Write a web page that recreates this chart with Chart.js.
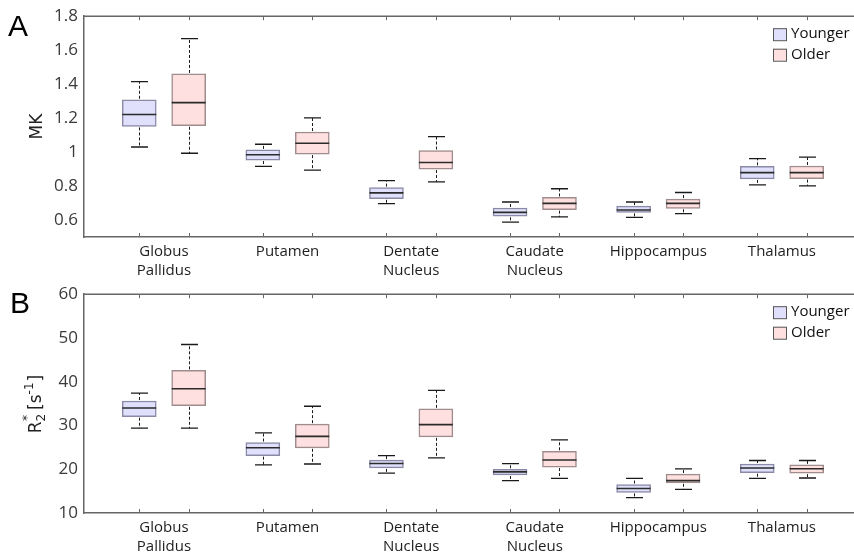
<!DOCTYPE html>
<html>
<head>
<meta charset="utf-8">
<script src="https://cdn.jsdelivr.net/npm/chart.js@4/dist/chart.umd.min.js"></script>
<style>
  html, body { margin: 0; padding: 0; background: #fff; }
  #wrap { position: relative; width: 854px; height: 556px; overflow: hidden; }
  .panel { position: absolute; left: 0; width: 854px; height: 278px; }
  .tag { position: absolute; font-family: "Liberation Sans", Arial, sans-serif; font-size: 30px; color: #000; line-height: 1; }
</style>
</head>
<body>
<div id="wrap">
  <div class="panel" style="top:0"><canvas id="mk" width="854" height="278"></canvas></div>
  <div class="panel" style="top:278px"><canvas id="r2" width="854" height="278"></canvas></div>
  <div class="tag" style="left:8px;top:11px">A</div>
  <div class="tag" style="left:10px;top:288px">B</div>
</div>
<script>
// Brain regions along the x axis
const regions = [["Globus", "Pallidus"], "Putamen", ["Dentate", "Nucleus"], ["Caudate", "Nucleus"], "Hippocampus", "Thalamus"];
const groupPos = [1, 2, 3, 4, 5, 6];
const youngerPos = [0.8, 1.8, 2.8, 3.8, 4.8, 5.8];
const olderPos = [1.2, 2.2, 3.2, 4.2, 5.2, 6.2];

// Five-number summaries per region: [lower whisker, Q1, median, Q3, upper whisker]
const mkYounger = [
  [1.030, 1.151, 1.221, 1.308, 1.415],
  [0.916, 0.953, 0.984, 1.013, 1.046],
  [0.696, 0.725, 0.760, 0.791, 0.832],
  [0.587, 0.622, 0.645, 0.671, 0.706],
  [0.616, 0.645, 0.659, 0.682, 0.706],
  [0.807, 0.842, 0.879, 0.916, 0.962]
];
const mkOlder = [
  [0.993, 1.155, 1.291, 1.460, 1.668],
  [0.894, 0.988, 1.052, 1.118, 1.201],
  [0.824, 0.900, 0.939, 1.009, 1.091],
  [0.618, 0.661, 0.698, 0.733, 0.784],
  [0.638, 0.669, 0.698, 0.723, 0.762],
  [0.801, 0.844, 0.879, 0.918, 0.970]
];
const r2Younger = [
  [29.4, 32.0, 34.0, 35.6, 37.4],
  [21.0, 23.1, 24.9, 26.1, 28.3],
  [19.1, 20.3, 21.3, 22.1, 23.1],
  [17.4, 18.7, 19.4, 20.0, 21.3],
  [13.5, 14.7, 15.6, 16.5, 17.9],
  [17.9, 19.2, 20.3, 21.2, 22.0]
];
const r2Older = [
  [29.4, 34.5, 38.4, 42.6, 48.5],
  [21.2, 24.9, 27.5, 30.3, 34.4],
  [22.6, 27.4, 30.2, 33.8, 38.0],
  [17.9, 20.5, 22.1, 24.1, 26.7],
  [15.4, 16.9, 17.4, 18.9, 20.1],
  [18.0, 19.1, 20.1, 21.0, 22.0]
];

// Axis ranges and tick labels
const mkRange = [0.5, 1.8];
const mkTicks = [0.6, 0.8, 1, 1.2, 1.4, 1.6, 1.8];
const r2Range = [10, 60];
const r2Ticks = [10, 20, 30, 40, 50, 60];
const xRange = [0.353, 6.583];
const seriesNames = ["Younger", "Older"];

const AXIS = "#666666";
const TICK_FONT = { family: "'Open Sans', sans-serif", size: 17 };
const CAT_FONT = { family: "'Open Sans', sans-serif", size: 15, lineHeight: 1.27 };

// Whiskers, caps, medians, axis frame ticks, legend and y title
const boxPlugin = {
  id: "boxExtras",
  afterDatasetsDraw(chart) {
    const ctx = chart.ctx;
    const y = chart.scales.y;
    const area = chart.chartArea;
    ctx.save();
    chart.data.datasets.forEach((ds, di) => {
      const meta = chart.getDatasetMeta(di);
      ds.stats.forEach((s, i) => {
        const bar = meta.data[i];
        const cx = Math.round(bar.x) + 0.5;
        const half = bar.width / 2;
        const yLo = y.getPixelForValue(s[0]);
        const yQ1 = y.getPixelForValue(s[1]);
        const yMed = y.getPixelForValue(s[2]);
        const yQ3 = y.getPixelForValue(s[3]);
        const yHi = y.getPixelForValue(s[4]);
        // dashed whiskers
        ctx.strokeStyle = "#1a1a1a";
        ctx.lineWidth = 1;
        ctx.setLineDash([3, 2]);
        ctx.beginPath();
        ctx.moveTo(cx, yQ3 - 1); ctx.lineTo(cx, yHi);
        ctx.moveTo(cx, yQ1 + 1); ctx.lineTo(cx, yLo);
        ctx.stroke();
        ctx.setLineDash([]);
        // caps
        ctx.lineWidth = 1.3;
        ctx.beginPath();
        ctx.moveTo(cx - half / 2, yHi); ctx.lineTo(cx + half / 2, yHi);
        ctx.moveTo(cx - half / 2, yLo); ctx.lineTo(cx + half / 2, yLo);
        ctx.stroke();
        // median
        ctx.strokeStyle = "#2b2b2b";
        ctx.lineWidth = 1.6;
        ctx.beginPath();
        ctx.moveTo(bar.x - half, yMed); ctx.lineTo(bar.x + half, yMed);
        ctx.stroke();
        // small inward ticks at each box position
        ctx.strokeStyle = AXIS;
        ctx.lineWidth = 1;
        ctx.beginPath();
        ctx.moveTo(cx, area.top); ctx.lineTo(cx, area.top + 4);
        ctx.moveTo(cx, area.bottom); ctx.lineTo(cx, area.bottom - 4);
        ctx.stroke();
      });
    });
    // top frame line
    ctx.strokeStyle = AXIS;
    ctx.lineWidth = 1.5;
    ctx.beginPath();
    ctx.moveTo(area.left, area.top); ctx.lineTo(area.right, area.top);
    ctx.stroke();
    // legend
    ctx.font = "15px 'Open Sans', sans-serif";
    ctx.textBaseline = "middle";
    ctx.textAlign = "left";
    chart.data.datasets.forEach((ds, di) => {
      const top = area.top + 12 + di * 20.5;
      ctx.fillStyle = ds.backgroundColor;
      ctx.fillRect(773, top, 13, 12);
      ctx.strokeStyle = "#555";
      ctx.lineWidth = 1;
      ctx.strokeRect(773.5, top + 0.5, 13, 12);
      ctx.fillStyle = "#111";
      ctx.fillText(ds.label, 791, top + 6);
    });
    // y axis title
    const title = chart.options.plugins.yTitle;
    const cy = (area.top + area.bottom) / 2;
    ctx.translate(title.x, cy);
    ctx.rotate(-Math.PI / 2);
    ctx.fillStyle = "#222";
    ctx.textBaseline = "alphabetic";
    let total = 0;
    title.parts.forEach(p => { ctx.font = p.size + "px 'DejaVu Sans', sans-serif"; total += ctx.measureText(p.t).width; });
    let px = -total / 2;
    title.parts.forEach(p => {
      ctx.font = p.size + "px 'DejaVu Sans', sans-serif";
      ctx.fillText(p.t, px, p.dy);
      px += ctx.measureText(p.t).width + (p.gap || 0);
    });
    ctx.restore();
  }
};

function makeDatasets(younger, older) {
  return [
    {
      label: seriesNames[0], stats: younger,
      data: younger.map((s, i) => ({ x: youngerPos[i], y: [s[1], s[3]] })),
      backgroundColor: "#e0e0fd", borderColor: "#8a8aa6"
    },
    {
      label: seriesNames[1], stats: older,
      data: older.map((s, i) => ({ x: olderPos[i], y: [s[1], s[3]] })),
      backgroundColor: "#ffe0e0", borderColor: "#a08c8c"
    }
  ].map(d => Object.assign(d, { borderWidth: 1.5, borderSkipped: false, barThickness: 34, grouped: false }));
}

function makeChart(id, younger, older, range, ticks, topPad, xHeight, title) {
  return new Chart(document.getElementById(id), {
    type: "bar",
    data: { datasets: makeDatasets(younger, older) },
    options: {
      responsive: false,
      animation: false,
      events: [],
      layout: { padding: { top: topPad, right: 0, left: 0, bottom: 0 } },
      plugins: { legend: { display: false }, tooltip: { enabled: false }, yTitle: title },
      scales: {
        x: {
          type: "linear", min: xRange[0], max: xRange[1], offset: false,
          grid: { display: false, drawTicks: false },
          border: { display: true, color: AXIS, width: 1.5 },
          afterBuildTicks: s => { s.ticks = groupPos.map(v => ({ value: v })); },
          afterFit: s => { s.height = xHeight; },
          ticks: {
            autoSkip: false, maxRotation: 0, padding: 5,
            color: "#1e1e1e", font: CAT_FONT,
            callback: (v, i) => regions[i]
          }
        },
        y: {
          type: "linear", min: range[0], max: range[1],
          grid: { display: false, drawTicks: false },
          border: { display: true, color: AXIS, width: 1.5 },
          afterBuildTicks: s => { s.ticks = ticks.map(v => ({ value: v })); },
          afterFit: s => { s.width = 84; },
          ticks: { padding: 6, color: "#3a3a3a", font: TICK_FONT, callback: v => String(v) }
        }
      }
    },
    plugins: [boxPlugin]
  });
}

makeChart("mk", mkYounger, mkOlder, mkRange, mkTicks, 14, 41,
  { x: 42, parts: [{ t: "MK", size: 17, dy: 0 }] });
makeChart("r2", r2Younger, r2Older, r2Range, r2Ticks, 13, 43,
  { x: 41, parts: [
    { t: "R", size: 17, dy: 0 },
    { t: "2", size: 12, dy: 4, gap: -7 },
    { t: "*", size: 12, dy: -10, gap: 5 },
    { t: "[s", size: 17, dy: 0 },
    { t: "-1", size: 12, dy: -8, gap: 1 },
    { t: "]", size: 17, dy: 0 }
  ] });
</script>
</body>
</html>
